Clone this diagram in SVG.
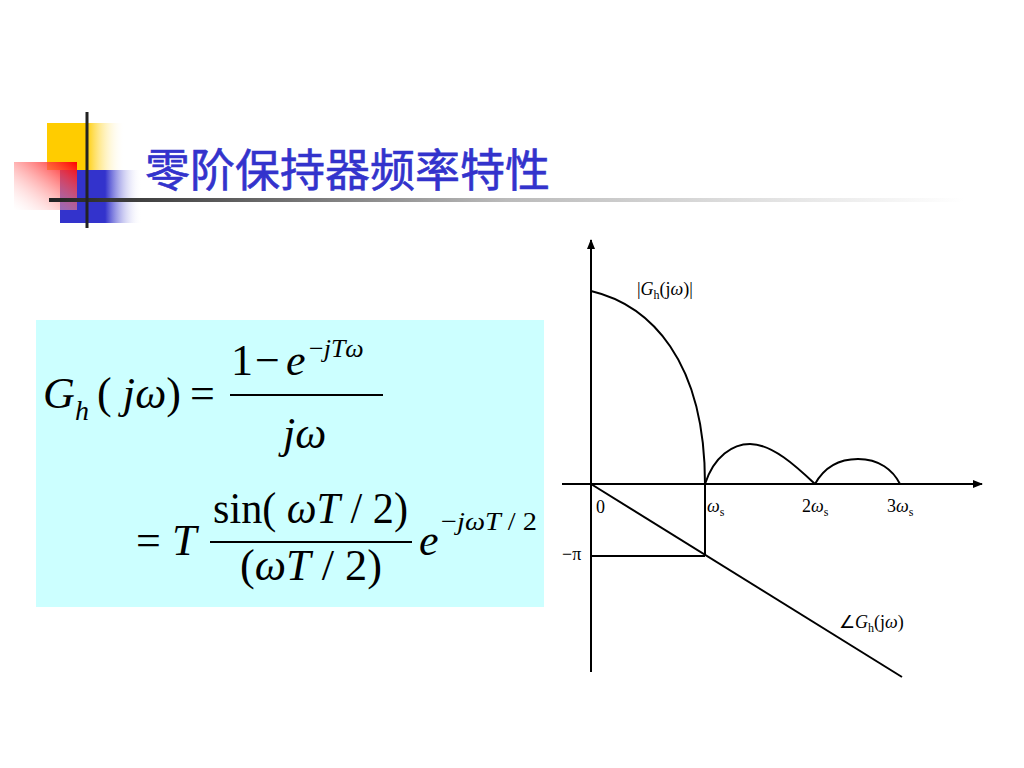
<svg xmlns="http://www.w3.org/2000/svg" width="1024" height="768" viewBox="0 0 1024 768">
<defs>
<linearGradient id="gY" x1="0" y1="0" x2="1" y2="0"><stop offset="0" stop-color="#FFCC00"/><stop offset="0.5" stop-color="#FFCC00"/><stop offset="1" stop-color="#FFFFFF" stop-opacity="0"/></linearGradient>
<linearGradient id="gB" x1="0" y1="0" x2="1" y2="0"><stop offset="0" stop-color="#3333CC"/><stop offset="0.55" stop-color="#3333CC"/><stop offset="1" stop-color="#FFFFFF" stop-opacity="0"/></linearGradient>
<linearGradient id="gR" x1="1" y1="0" x2="0" y2="1"><stop offset="0" stop-color="#FF0000"/><stop offset="1" stop-color="#FFFFFF" stop-opacity="0.2"/></linearGradient>
<linearGradient id="gL" x1="0" y1="0" x2="1" y2="0"><stop offset="0" stop-color="#222222"/><stop offset="0.5" stop-color="#BBBBBB"/><stop offset="1" stop-color="#FFFFFF"/></linearGradient>
<marker id="arr" viewBox="0 0 10 10" refX="9" refY="5" markerWidth="10" markerHeight="10" markerUnits="userSpaceOnUse" orient="auto"><path d="M0,1 L10,5 L0,9 Z" fill="#000"/></marker>
</defs>
<style>
.m{font-family:"Liberation Serif","Times New Roman",serif;fill:#000}
.i{font-style:italic}
.ax{stroke:#000;stroke-width:2;fill:none}
.lb{font-family:"Liberation Serif","Times New Roman",serif;font-size:18px;fill:#000}
.sb{font-size:12px}
</style>
<rect width="1024" height="768" fill="#FFFFFF"/>
<g id="decoration">
<rect x="47" y="123" width="78" height="47" fill="url(#gY)"/>
<rect x="60" y="170" width="82" height="53" fill="url(#gB)"/>
<rect x="14" y="162" width="63" height="48" fill="url(#gR)"/>
<rect x="49" y="198" width="915" height="4" fill="url(#gL)"/>
<rect x="85.5" y="112" width="3" height="116" fill="#222"/>
</g>
<g id="title">
<text x="145" y="187" font-family="Noto Sans CJK SC, sans-serif" font-size="45" fill="#3333CC" stroke="#3333CC" stroke-width="0.6" textLength="405">零阶保持器频率特性</text>
</g>
<g id="formula">
<rect x="36" y="320" width="508" height="287" fill="#CCFFFF"/>
<text class="m i" x="43" y="408" font-size="44">G</text>
<text class="m i" x="75" y="420" font-size="28">h</text>
<text class="m" x="97" y="408" font-size="44" textLength="84" lengthAdjust="spacing">( <tspan class="i">jω</tspan>)</text>
<text class="m" x="190" y="408" font-size="44">=</text>
<line x1="230" y1="395" x2="383" y2="395" stroke="#000" stroke-width="2"/>
<text class="m" x="231" y="375" font-size="44">1</text>
<text class="m" x="255" y="375" font-size="44">−</text>
<text class="m i" x="286" y="375" font-size="44">e</text>
<text class="m" x="309" y="357" font-size="26">−<tspan class="i">jTω</tspan></text>
<text class="m i" x="283" y="448" font-size="44">jω</text>
<text class="m" x="136" y="555" font-size="44">=</text>
<text class="m i" x="172" y="555" font-size="44">T</text>
<line x1="210" y1="542" x2="412" y2="542" stroke="#000" stroke-width="2"/>
<text class="m" x="213" y="523" font-size="44" textLength="195" lengthAdjust="spacingAndGlyphs">sin( <tspan class="i">ωT</tspan> / 2)</text>
<text class="m" x="240" y="580" font-size="44" textLength="142" lengthAdjust="spacingAndGlyphs">(<tspan class="i">ωT</tspan> / 2)</text>
<text class="m i" x="419" y="555" font-size="44">e</text>
<text class="m" x="441" y="530" font-size="26" textLength="96" lengthAdjust="spacingAndGlyphs">−<tspan class="i">jωT</tspan> / 2</text>
</g>
<g id="connectors">
<line class="ax" x1="591" y1="672" x2="591" y2="240" marker-end="url(#arr)"/>
<line class="ax" x1="562" y1="484" x2="982" y2="484" marker-end="url(#arr)"/>
<path class="ax" d="M591,291 C650,305 705,360 705,484"/>
<path class="ax" d="M705,484 C714,456 733,444 750,444 C772,444 796,466 815,484"/>
<path class="ax" d="M815,484 C825,466 840,459 858,459 C879,459 893,470 900,484"/>
<line class="ax" x1="591" y1="484" x2="902" y2="677"/>
<line class="ax" x1="591" y1="556" x2="705" y2="556"/>
<line class="ax" x1="705" y1="484" x2="705" y2="556"/>
</g>
<g id="labels">
<text class="lb" x="637" y="295">|<tspan class="i">G</tspan><tspan class="sb" dy="4">h</tspan><tspan dy="-4">(j</tspan><tspan class="i">ω</tspan>)|</text>
<text class="lb" x="596" y="513">0</text>
<text class="lb" x="707" y="512"><tspan class="i">ω</tspan><tspan class="sb" dy="4">s</tspan></text>
<text class="lb" x="802" y="512">2<tspan class="i">ω</tspan><tspan class="sb" dy="4">s</tspan></text>
<text class="lb" x="887" y="512">3<tspan class="i">ω</tspan><tspan class="sb" dy="4">s</tspan></text>
<text class="lb" x="562" y="560">−π</text>
<text class="lb" x="839" y="628">∠<tspan class="i">G</tspan><tspan class="sb" dy="4">h</tspan><tspan dy="-4">(j</tspan><tspan class="i">ω</tspan>)</text>
</g>
</svg>
